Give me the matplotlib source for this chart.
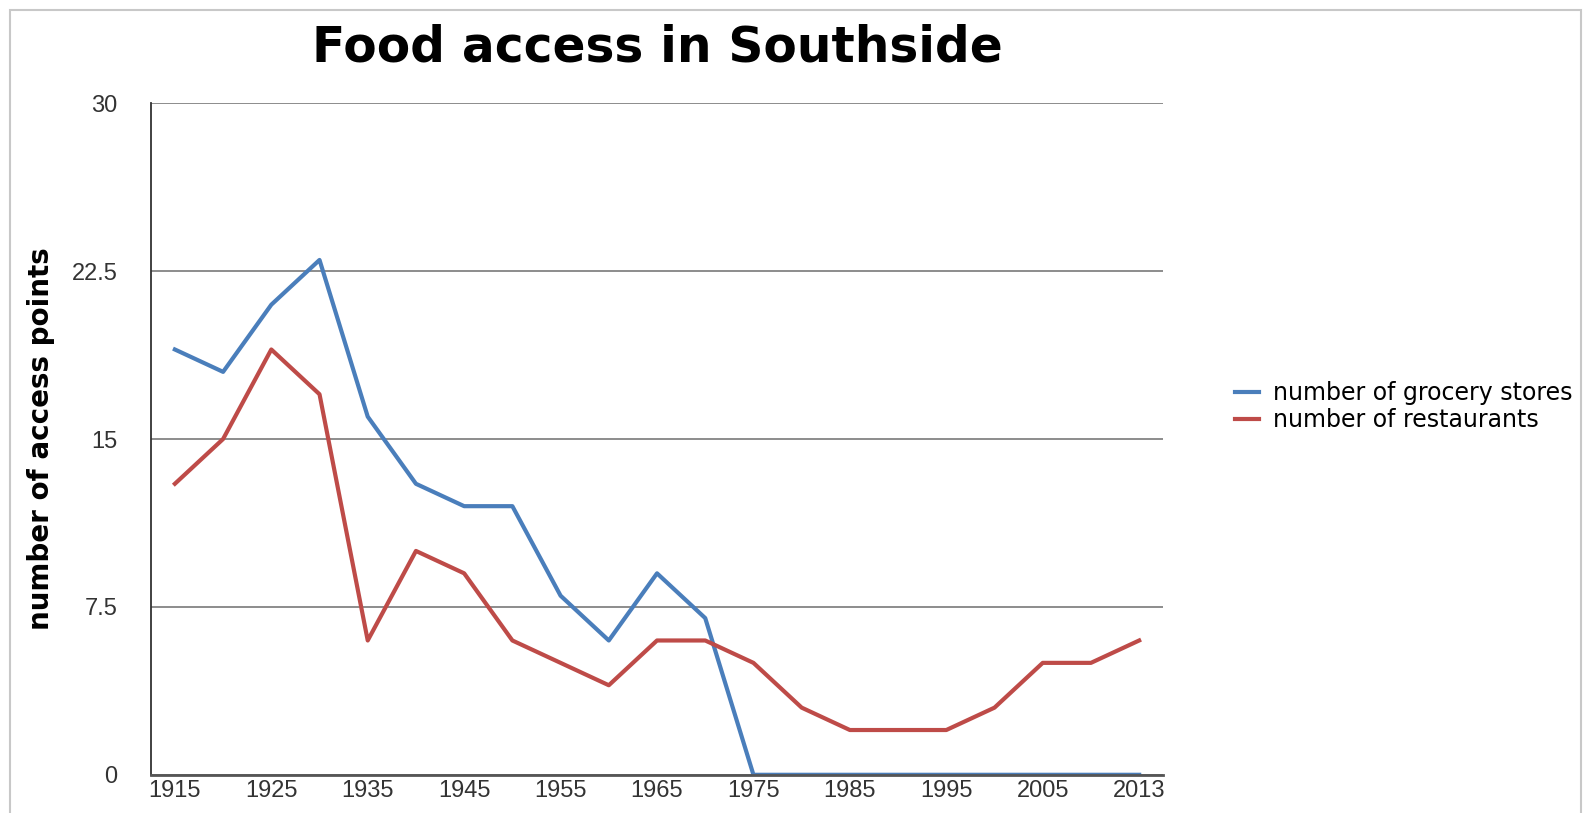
import matplotlib
matplotlib.use("Agg")
import matplotlib.pyplot as plt
from matplotlib.patches import Rectangle

years = [1915, 1920, 1925, 1930, 1935, 1940, 1945, 1950, 1955, 1960, 1965,
         1970, 1975, 1980, 1985, 1990, 1995, 2000, 2005, 2010, 2013]
grocery = [19, 18, 21, 23, 16, 13, 12, 12, 8, 6, 9, 7, 0, 0, 0, 0, 0, 0, 0, 0, 0]
restaurants = [13, 15, 19, 17, 6, 10, 9, 6, 5, 4, 6, 6, 5, 3, 2, 2, 2, 3, 5, 5, 6]
y_ticks = [0, 7.5, 15, 22.5, 30]
y_tick_labels = ["0", "7.5", "15", "22.5", "30"]

blue = "#4a7ebb"
red = "#be4b48"
narrow = ["Liberation Sans", "DejaVu Sans"]

fig = plt.figure(figsize=(15.87, 8.13), dpi=100)
ax = fig.add_axes([0.095, 0.047, 0.638, 0.826])

# outer frame of the chart area
fig.patches.append(Rectangle((0.006, -0.05), 0.99, 1.038, transform=fig.transFigure,
                             fill=False, edgecolor="#c8c8c8", linewidth=1.5))

x = list(range(len(years)))
ax.plot(x, grocery, color=blue, lw=3.0, label="number of grocery stores")
ax.plot(x, restaurants, color=red, lw=3.0, label="number of restaurants")

ax.set_xlim(-0.5, len(years) - 0.5)
ax.set_ylim(0, 30)
ax.set_yticks(y_ticks)
ax.set_yticklabels(y_tick_labels, family=narrow, fontsize=17, color="#333333")
shown = [i for i in x if i % 2 == 0]
ax.set_xticks(shown)
ax.set_xticklabels([str(years[i]) for i in shown], family=narrow, fontsize=17, color="#333333")
ax.tick_params(axis="x", length=0, pad=4)
ax.tick_params(axis="y", length=0, pad=24)

ax.yaxis.grid(True, color="#8c8c8c", lw=1.4)
ax.set_axisbelow(True)
for s in ["top", "right"]:
    ax.spines[s].set_visible(False)
ax.spines["left"].set_color("#333333")
ax.spines["left"].set_linewidth(1.3)
ax.spines["bottom"].set_color("#555555")
ax.spines["bottom"].set_linewidth(2.0)

ax.set_ylabel("number of access points", fontsize=20, fontweight="bold", labelpad=12)
ax.set_title("Food access in Southside", fontsize=35, fontweight="bold", pad=30)

fig.legend(loc="center left", bbox_to_anchor=(0.765, 0.5), frameon=False,
           prop={"size": 17}, handlelength=1.0, handletextpad=0.6,
           labelspacing=0.12)

fig.savefig("out.png", dpi=100)
